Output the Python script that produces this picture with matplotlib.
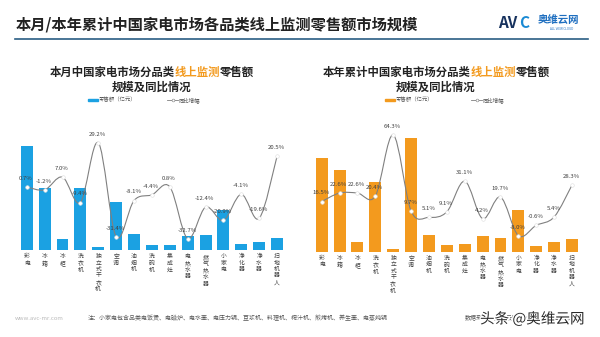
import matplotlib
matplotlib.use("Agg")
import matplotlib.pyplot as plt
import numpy as np
from matplotlib.path import Path
from matplotlib.patches import PathPatch, Rectangle
from matplotlib.lines import Line2D
import matplotlib.patheffects as pe

plt.rcParams['font.family'] = ['Noto Sans CJK SC', 'DejaVu Sans']

categories = ["彩电", "冰箱", "冰柜", "洗衣机", "独立式干衣机", "空调", "油烟机", "洗碗机",
              "集成灶", "电热水器", "燃气热水器", "小家电", "净化器", "净水器", "扫地机器人"]

month_sales = [51.8, 31.0, 5.4, 31.2, 1.4, 23.9, 7.9, 2.5, 2.5, 7.0, 7.3, 19.8, 3.2, 4.2, 5.9]
month_yoy = [0.7, -1.2, 7.0, -9.4, 29.2, -31.4, -8.1, -4.4, 0.8, -32.7, -12.4, -20.9, -4.1, -19.6, 20.5]

ytd_sales = [279, 244.5, 30, 207, 7.5, 339, 51, 19.5, 24, 48, 42, 124.5, 16.5, 30, 39]
ytd_yoy = [16.5, 22.6, 22.6, 20.4, 64.3, 9.7, 5.1, 9.1, 31.1, 4.2, 19.7, -8.0, -0.6, 5.4, 28.3]

BLUE = '#1ba1e2'
ORANGE = '#f39a1e'
LINE = '#808080'
TXT = '#404040'

W, H = 600, 337
fig = plt.figure(figsize=(6, 3.37), dpi=100)
fig.patch.set_facecolor('white')


def fx(px):
    return px / W


def fy(py):
    return 1 - py / H


def smooth_path(xs, ys):
    xs = np.asarray(xs, float)
    ys = np.asarray(ys, float)
    pts = np.column_stack([xs, ys])
    n = len(pts)
    verts = [pts[0]]
    codes = [Path.MOVETO]
    for i in range(n - 1):
        p0 = pts[i - 1] if i > 0 else pts[i]
        p1 = pts[i]
        p2 = pts[i + 1]
        p3 = pts[i + 2] if i + 2 < n else pts[i + 1]
        c1 = p1 + (p2 - p0) / 6.0
        c2 = p2 - (p3 - p1) / 6.0
        verts += [c1, c2, p2]
        codes += [Path.CURVE4] * 3
    return Path(verts, codes)


def panel(left_px, bottom_px, sales, yoy, color, ylim_bar, ylim_line):
    ax = fig.add_axes([fx(left_px), fy(bottom_px), fx(268.2), 120 / H])
    x = np.arange(len(categories))
    ax.bar(x, sales, width=0.67, color=color, zorder=2)
    ax.set_xlim(-0.5, len(categories) - 0.5)
    ax.set_ylim(*ylim_bar)
    for s in ax.spines.values():
        s.set_visible(False)
    ax.set_yticks([])
    ax.set_xticks(x)
    ax.set_xticklabels(["\n".join(c) for c in categories], fontsize=4.2,
                       color=TXT, va='top', linespacing=1.35)
    ax.tick_params(axis='x', length=0, pad=3)
    ax.patch.set_alpha(0)

    ax2 = ax.twinx()
    ax2.set_ylim(*ylim_line)
    for s in ax2.spines.values():
        s.set_visible(False)
    ax2.set_yticks([])
    ax2.add_patch(PathPatch(smooth_path(x, yoy), fill=False, edgecolor=LINE,
                            lw=0.8, zorder=3))
    ax2.plot(x, yoy, 'o', ms=2.6, mfc='white', mec='#dddddd', mew=0.4, zorder=4)
    for xi, v in zip(x, yoy):
        ax2.annotate(f"{v:.1f}%", (xi, v), xytext=(-0.5, 6.2),
                     textcoords='offset points', ha='center', va='center',
                     fontsize=4.3, color=TXT, zorder=5)
    return ax, ax2


panel(17.8, 250, month_sales, month_yoy, BLUE, (0, 60), (-40, 37.4))
panel(312.75, 251.5, ytd_sales, ytd_yoy, ORANGE, (0, 360), (-19.4, 66.8))

# Main title and rule
fig.text(fx(16), fy(24), "本月/本年累计中国家电市场各品类线上监测零售额市场规模",
         fontsize=11, fontweight='bold', color='#222222', ha='left', va='center')
fig.add_artist(Line2D([fx(15), fx(588)], [fy(39), fy(39)], color='#2a5d84', lw=1.2))

# Logo
fig.text(fx(498), fy(23), "AV", fontsize=11, fontweight='bold', color='#17325e',
         ha='left', va='center', style='italic')
fig.text(fx(519), fy(23), "C", fontsize=11, fontweight='bold', color='#1a8ad4',
         ha='left', va='center')
fig.text(fx(538), fy(20), "奥维云网", fontsize=7.5, fontweight='bold', color='#1f6fc0',
         ha='left', va='center')
fig.text(fx(562), fy(28.5), "ALL VIEW CLOUD", fontsize=2.2, color='#1f6fc0',
         ha='center', va='center')


def subtitle(cx, first, second):
    y1 = fy(72)
    pre, hl, post = first
    t = fig.text(0, y1, pre, fontsize=8.2, fontweight='bold', color='#222222',
                 ha='left', va='center')
    fig.canvas.draw()
    r = fig.canvas.get_renderer()
    w1 = t.get_window_extent(r).width
    t2 = fig.text(0, y1, hl, fontsize=8.2, fontweight='bold', color=ORANGE,
                  ha='left', va='center')
    w2 = t2.get_window_extent(r).width
    t3 = fig.text(0, y1, post, fontsize=8.2, fontweight='bold', color='#222222',
                  ha='left', va='center')
    w3 = t3.get_window_extent(r).width
    start = cx - (w1 + w2 + w3) / 2
    t.set_x(fx(start))
    t2.set_x(fx(start + w1))
    t3.set_x(fx(start + w1 + w2))
    fig.text(fx(cx), fy(87.5), second, fontsize=8.2, fontweight='bold',
             color='#222222', ha='center', va='center')


subtitle(152, ("本月中国家电市场分品类", "线上监测", "零售额"), "规模及同比情况")
subtitle(436, ("本年累计中国家电市场分品类", "线上监测", "零售额"), "规模及同比情况")


def legend(sw_x, color, line_x):
    fig.add_artist(Rectangle((fx(sw_x), fy(101)), fx(10), 2.2 / H, color=color))
    fig.text(fx(sw_x + 11), fy(100), "零售额（亿元）", fontsize=3.9, color='#555555',
             ha='left', va='center')
    fig.add_artist(Line2D([fx(line_x), fx(line_x + 11)], [fy(100), fy(100)],
                          color=LINE, lw=0.6))
    fig.add_artist(Line2D([fx(line_x + 5.5)], [fy(100)], marker='o', ms=2,
                          mfc='white', mec=LINE, mew=0.4))
    fig.text(fx(line_x + 12), fy(100), "同比增幅", fontsize=3.9, color='#555555',
             ha='left', va='center')


legend(88, BLUE, 167)
legend(385, ORANGE, 471)

# Footer
fig.text(fx(15), fy(318), "www.avc-mr.com", fontsize=4.3, color='#bbbbbb',
         ha='left', va='center')
fig.text(fx(88), fy(318),
         "注：小家电包含品类电饭煲、电磁炉、电水壶、电压力锅、豆浆机、料理机、榨汁机、煎烤机、养生壶、电蒸炖锅",
         fontsize=4.3, color='#555555', ha='left', va='center')
fig.text(fx(465), fy(318), "数据来源：奥维云网（AVC）线上监测数据", fontsize=4.3,
         color='#555555', ha='left', va='center')
fig.text(fx(480), fy(319), "头条 @奥维云网", fontsize=10.5, color='#2a2a2a',
         ha='left', va='center',
         path_effects=[pe.withStroke(linewidth=2.0, foreground='white')])

fig.savefig("out.png", dpi=100, facecolor='white')
